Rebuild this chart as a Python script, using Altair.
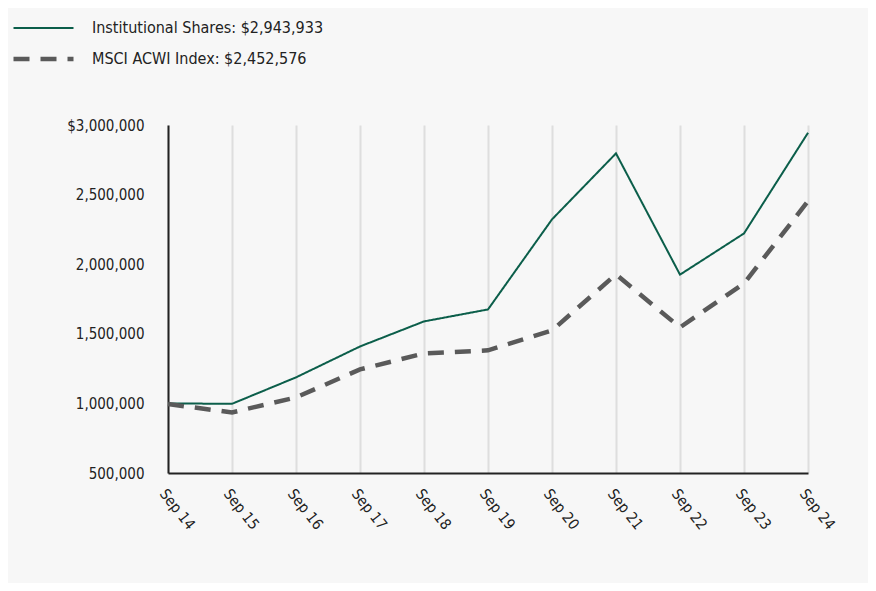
import altair as alt
import pandas as pd

years = ["Sep 14", "Sep 15", "Sep 16", "Sep 17", "Sep 18", "Sep 19",
         "Sep 20", "Sep 21", "Sep 22", "Sep 23", "Sep 24"]
inst = [1000000, 997000, 1187000, 1409000, 1589000, 1675000,
        2322000, 2796000, 1925000, 2221000, 2943933]
msci = [995000, 935000, 1043000, 1244000, 1359000, 1381000,
        1524000, 1927000, 1546000, 1862000, 2452576]
series_names = ["Institutional Shares: $2,943,933", "MSCI ACWI Index: $2,452,576"]
series_colors = ["#0b5e4a", "#5a5a5a"]

rows = []
for i, y in enumerate(years):
    rows.append({"year": y, "value": inst[i], "series": series_names[0], "order": i})
    rows.append({"year": y, "value": msci[i], "series": series_names[1], "order": i})
df = pd.DataFrame(rows)

FONT = "DejaVu Sans Condensed"

legend = alt.Legend(
    title=None, orient="none", legendX=-157, legendY=-107,
    symbolType="stroke", symbolSize=3600, labelFontSize=16, labelFont=FONT,
    labelColor="#222222", rowPadding=11, labelOffset=16, labelLimit=500,
    clipHeight=20, symbolStrokeColor="#5a5a5a",
)

chart = alt.Chart(df).mark_line().encode(
    x=alt.X("year:N", sort=years, scale=alt.Scale(type="point", padding=0),
            axis=alt.Axis(title=None, labelAngle=52, labelAlign="left", labelBaseline="top",
                          labelPadding=13, labelFontSize=15, labelFont=FONT, labelColor="#222222",
                          grid=True, gridColor="#dedede", gridWidth=2, ticks=False,
                          domainColor="#222222", domainWidth=2)),
    y=alt.Y("value:Q", scale=alt.Scale(domain=[500000, 3000000]),
            axis=alt.Axis(title=None, values=[500000, 1000000, 1500000, 2000000, 2500000, 3000000],
                          labelExpr="datum.value == 3000000 ? '$3,000,000' : format(datum.value, ',')",
                          labelFontSize=15, labelFont=FONT, labelColor="#222222", labelPadding=24,
                          grid=False, ticks=False, domainColor="#222222", domainWidth=2)),
    color=alt.Color("series:N", scale=alt.Scale(domain=series_names, range=series_colors), legend=legend),
    strokeDash=alt.StrokeDash("series:N", scale=alt.Scale(domain=series_names, range=[[1, 0], [16, 11]]), legend=legend),
    strokeWidth=alt.StrokeWidth("series:N", scale=alt.Scale(domain=series_names, range=[2, 4.5]), legend=legend),
    order="order:Q",
).properties(
    width=640, height=348,
    autosize=alt.AutoSizeParams(type="none"),
    padding={"left": 160, "top": 117, "right": 60, "bottom": 110},
    background="#f7f7f7",
).configure_view(stroke=None)

chart.save("out.html", embed_options={"renderer": "svg", "actions": False})
